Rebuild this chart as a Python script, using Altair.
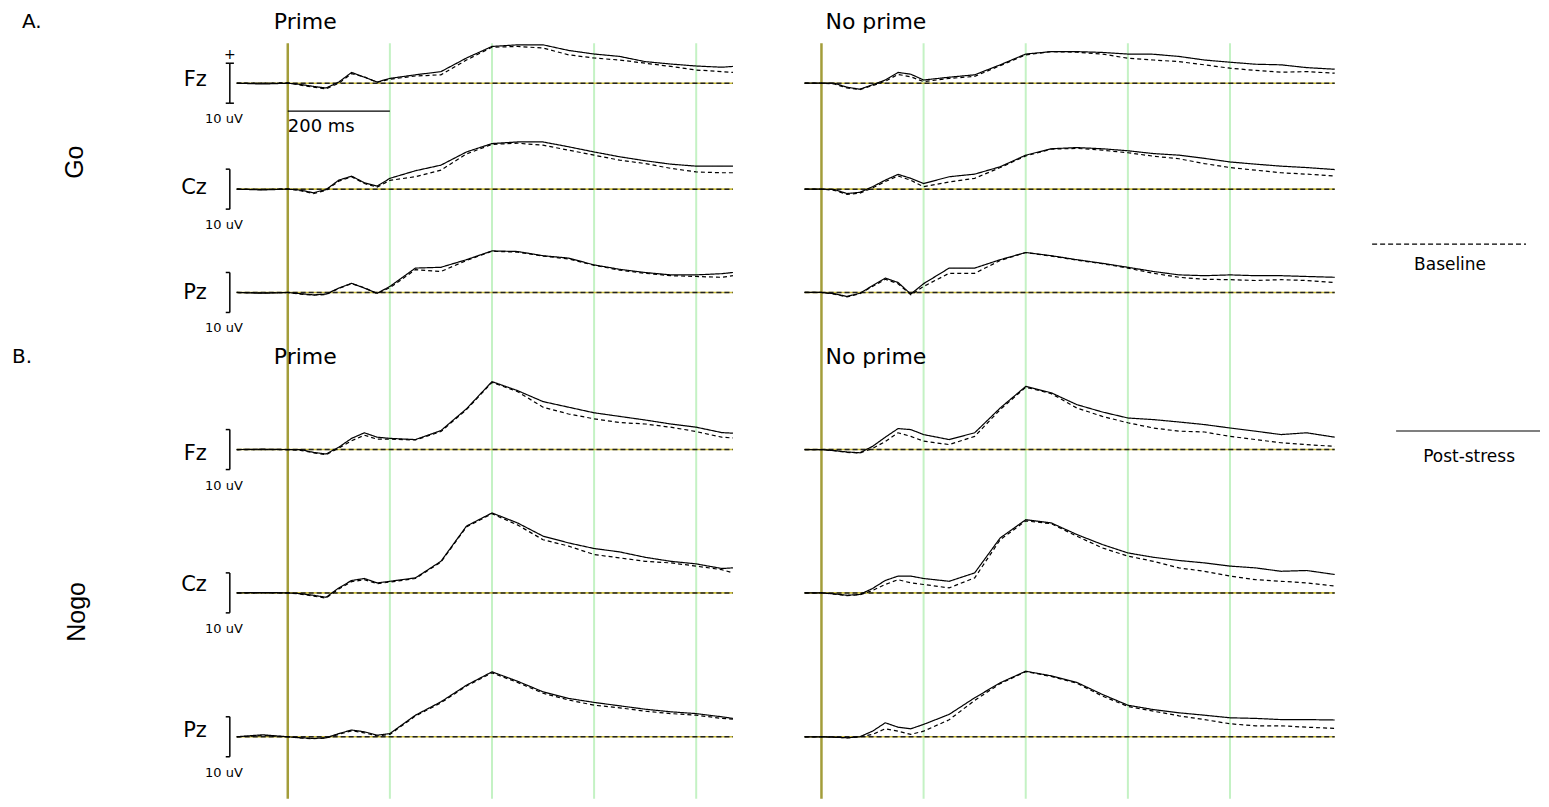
import altair as alt
import pandas as pd

# ---------------- time axes (ms) ----------------
TIME_PRIME = [-100, -50, 0, 25, 50, 75, 100, 125, 150, 175, 200, 250, 300, 350,
              400, 450, 500, 550, 600, 650, 700, 750, 800, 850, 872]
TIME_NOPRIME = [-33, 0, 25, 50, 75, 100, 125, 150, 175, 200, 250, 300, 350, 400,
                450, 500, 550, 600, 650, 700, 750, 800, 850, 900, 950, 1005]

# ---------------- Prime (left column), amplitudes in µV ----------------
PRIME_GO_FZ_POST = [0, -0.2, 0, -0.3, -0.8, -1.2, 0.3, 2.7, 1.5, 0.3, 1.2, 2.1, 2.9, 6.3,
                    9.2, 9.6, 9.6, 8.2, 7.3, 6.7, 5.4, 4.8, 4.3, 4.0, 4.2]
PRIME_GO_FZ_BASE = [0, 0, 0.1, -0.5, -1.0, -1.4, 0.0, 2.4, 1.6, 0.2, 1.0, 1.8, 2.1, 5.8,
                    9.0, 9.2, 8.8, 7.1, 6.3, 5.8, 5.0, 4.2, 3.3, 2.9, 2.7]
PRIME_GO_CZ_POST = [0, -0.2, 0, -0.25, -0.9, -0.1, 2.25, 3.25, 1.6, 0.75, 2.7, 4.6, 6.0, 9.3,
                    11.4, 11.8, 11.8, 10.6, 9.3, 8.1, 7.1, 6.25, 5.75, 5.75, 5.75]
PRIME_GO_CZ_BASE = [0, -0.1, 0.1, -0.4, -1.1, -0.3, 2.0, 3.1, 1.4, 0.5, 2.2, 3.1, 4.75, 8.8,
                    11.2, 11.5, 11.0, 9.75, 8.5, 7.25, 6.4, 5.2, 4.3, 4.1, 4.1]
PRIME_GO_PZ_POST = [0, -0.2, 0, -0.3, -0.6, -0.4, 1.1, 2.3, 1.1, -0.2, 1.5, 6.1, 6.3, 8.2,
                    10.4, 10.25, 9.2, 8.6, 6.9, 5.8, 5.0, 4.4, 4.4, 4.7, 5.0]
PRIME_GO_PZ_BASE = [0, -0.1, 0, -0.4, -0.7, -0.5, 1.0, 2.2, 1.2, -0.3, 1.2, 5.7, 5.25, 8.0,
                    10.3, 10.1, 9.1, 8.4, 6.8, 5.6, 4.8, 4.2, 4.0, 3.8, 4.2]
PRIME_NOGO_FZ_POST = [0, 0.1, 0, 0, -0.7, -1.1, 0.6, 2.8, 4.2, 3.1, 2.8, 2.5, 4.75, 10.2,
                      17.0, 14.75, 12.0, 10.6, 9.2, 8.3, 7.4, 6.4, 5.6, 4.25, 4.1]
PRIME_NOGO_FZ_BASE = [0, 0, 0, -0.2, -0.8, -1.3, 0.4, 2.2, 3.6, 2.6, 2.6, 2.4, 4.5, 10.0,
                      16.8, 14.5, 10.6, 8.9, 7.7, 6.75, 6.4, 5.6, 4.5, 3.1, 2.9]
PRIME_NOGO_CZ_POST = [0, 0.1, 0, -0.2, -0.6, -1.1, 1.25, 3.1, 3.6, 2.5, 2.9, 3.75, 7.9, 16.7,
                      20.0, 17.5, 14.2, 12.5, 11.1, 10.25, 8.9, 7.9, 7.25, 6.1, 6.25]
PRIME_NOGO_CZ_BASE = [0, 0, 0, -0.3, -0.8, -1.3, 1.0, 2.8, 3.3, 2.3, 2.7, 3.6, 7.7, 16.5,
                      19.8, 17.0, 13.3, 11.7, 9.6, 8.75, 7.9, 7.5, 6.7, 5.8, 5.0]
PRIME_NOGO_PZ_POST = [0, 0.5, 0, -0.25, -0.4, -0.25, 0.8, 1.7, 1.25, 0.4, 0.8, 5.4, 8.75, 12.9,
                      16.25, 13.9, 11.25, 9.6, 8.6, 7.75, 6.9, 6.25, 5.8, 5.0, 4.6]
PRIME_NOGO_PZ_BASE = [0, 0.3, 0, -0.3, -0.5, -0.3, 0.6, 1.5, 1.0, 0.2, 0.6, 5.2, 8.5, 12.7,
                      16.0, 13.6, 10.9, 9.2, 7.9, 7.25, 6.4, 5.8, 5.4, 4.6, 4.4]

# ---------------- No prime (right column), amplitudes in µV ----------------
NOPRIME_GO_FZ_POST = [0, 0, 0, -1.0, -1.5, -0.4, 0.8, 2.7, 2.25, 0.8, 1.5, 2.1, 4.6, 7.3,
                      7.9, 7.9, 7.7, 7.3, 7.25, 6.7, 5.8, 5.25, 4.75, 4.6, 3.9, 3.5]
NOPRIME_GO_FZ_BASE = [0, 0, -0.2, -1.2, -1.6, -0.6, 0.5, 2.2, 1.6, 0.4, 1.2, 1.7, 4.4, 7.1,
                      7.9, 7.75, 7.3, 6.25, 5.8, 5.4, 4.6, 3.75, 3.2, 2.75, 2.9, 2.5]
NOPRIME_GO_CZ_POST = [0, 0, -0.1, -1.1, -0.8, 0.6, 2.25, 3.7, 2.7, 1.4, 3.1, 3.75, 5.6, 8.5,
                      10.1, 10.4, 10.1, 9.6, 8.9, 8.5, 7.7, 6.8, 6.25, 5.75, 5.4, 4.9]
NOPRIME_GO_CZ_BASE = [0, 0, -0.3, -1.3, -1.0, 0.3, 1.9, 3.3, 2.2, 0.6, 1.8, 2.7, 5.4, 8.3,
                      10.0, 10.2, 9.75, 9.1, 8.25, 7.6, 6.4, 5.4, 4.75, 4.1, 3.75, 3.3]
NOPRIME_GO_PZ_POST = [0, 0, -0.3, -1.0, -0.2, 1.7, 3.6, 2.5, -0.4, 2.2, 6.1, 6.1, 8.2, 10.0,
                      9.2, 8.2, 7.3, 6.3, 5.25, 4.4, 4.2, 4.4, 4.2, 4.2, 4.0, 3.8]
NOPRIME_GO_PZ_BASE = [0, 0, -0.4, -1.1, -0.3, 1.5, 3.3, 2.2, -0.6, 1.5, 4.8, 4.8, 8.0, 10.0,
                      9.1, 8.1, 7.2, 6.1, 4.8, 3.8, 3.3, 3.2, 3.0, 3.2, 3.0, 2.5]
NOPRIME_NOGO_FZ_POST = [0, 0, -0.25, -0.6, -0.8, 0.8, 3.1, 5.25, 5.0, 3.75, 2.5, 4.2, 10.4, 15.8,
                        14.2, 11.25, 9.4, 7.9, 7.5, 6.9, 6.25, 5.4, 4.6, 3.75, 4.2, 3.1]
NOPRIME_NOGO_FZ_BASE = [0, 0, -0.3, -0.7, -0.9, 0.3, 2.0, 4.2, 3.3, 2.1, 1.25, 3.3, 10.0, 15.6,
                        14.0, 10.4, 8.3, 6.7, 5.4, 4.6, 4.4, 3.3, 2.5, 1.7, 1.25, 0.8]
NOPRIME_NOGO_CZ_POST = [0, 0, -0.25, -0.6, -0.4, 1.1, 3.1, 4.2, 4.2, 3.6, 2.9, 5.0, 13.75, 18.3,
                        17.5, 14.6, 12.1, 10.0, 8.9, 8.1, 7.5, 6.7, 6.25, 5.4, 5.6, 4.6]
NOPRIME_NOGO_CZ_BASE = [0, 0, -0.3, -0.7, -0.5, 0.6, 2.1, 3.3, 2.5, 2.1, 1.25, 3.75, 13.3, 18.0,
                        17.3, 14.2, 11.25, 9.2, 7.9, 6.25, 5.4, 4.2, 3.3, 2.9, 2.5, 1.7]
NOPRIME_NOGO_PZ_POST = [0, 0, -0.1, -0.25, 0, 1.4, 3.5, 2.4, 2.0, 3.1, 5.6, 9.75, 13.5, 16.4,
                        15.25, 13.6, 10.6, 7.9, 6.8, 6.0, 5.4, 4.75, 4.6, 4.3, 4.3, 4.2]
NOPRIME_NOGO_PZ_BASE = [0, 0, -0.1, -0.3, 0, 0.6, 2.0, 1.4, 0.6, 1.4, 4.25, 9.1, 13.3, 16.3,
                        15.1, 13.4, 10.2, 7.6, 6.4, 5.25, 4.3, 3.25, 2.75, 2.75, 2.4, 2.1]

PANELS = ["Prime", "No prime"]
TASKS = ["Go", "Nogo"]
CHANNELS = ["Fz", "Cz", "Pz"]
CONDITIONS = ["Baseline", "Post-stress"]
GRID_TIMES = [200, 400, 600, 800]
CAL_UV = 10          # calibration bar height (µV)
SCALE_MS = 200       # time scale bar (ms)

TRACES = {
    ("Prime", "Go", "Fz", "Baseline"): PRIME_GO_FZ_BASE,
    ("Prime", "Go", "Fz", "Post-stress"): PRIME_GO_FZ_POST,
    ("Prime", "Go", "Cz", "Baseline"): PRIME_GO_CZ_BASE,
    ("Prime", "Go", "Cz", "Post-stress"): PRIME_GO_CZ_POST,
    ("Prime", "Go", "Pz", "Baseline"): PRIME_GO_PZ_BASE,
    ("Prime", "Go", "Pz", "Post-stress"): PRIME_GO_PZ_POST,
    ("Prime", "Nogo", "Fz", "Baseline"): PRIME_NOGO_FZ_BASE,
    ("Prime", "Nogo", "Fz", "Post-stress"): PRIME_NOGO_FZ_POST,
    ("Prime", "Nogo", "Cz", "Baseline"): PRIME_NOGO_CZ_BASE,
    ("Prime", "Nogo", "Cz", "Post-stress"): PRIME_NOGO_CZ_POST,
    ("Prime", "Nogo", "Pz", "Baseline"): PRIME_NOGO_PZ_BASE,
    ("Prime", "Nogo", "Pz", "Post-stress"): PRIME_NOGO_PZ_POST,
    ("No prime", "Go", "Fz", "Baseline"): NOPRIME_GO_FZ_BASE,
    ("No prime", "Go", "Fz", "Post-stress"): NOPRIME_GO_FZ_POST,
    ("No prime", "Go", "Cz", "Baseline"): NOPRIME_GO_CZ_BASE,
    ("No prime", "Go", "Cz", "Post-stress"): NOPRIME_GO_CZ_POST,
    ("No prime", "Go", "Pz", "Baseline"): NOPRIME_GO_PZ_BASE,
    ("No prime", "Go", "Pz", "Post-stress"): NOPRIME_GO_PZ_POST,
    ("No prime", "Nogo", "Fz", "Baseline"): NOPRIME_NOGO_FZ_BASE,
    ("No prime", "Nogo", "Fz", "Post-stress"): NOPRIME_NOGO_FZ_POST,
    ("No prime", "Nogo", "Cz", "Baseline"): NOPRIME_NOGO_CZ_BASE,
    ("No prime", "Nogo", "Cz", "Post-stress"): NOPRIME_NOGO_CZ_POST,
    ("No prime", "Nogo", "Pz", "Baseline"): NOPRIME_NOGO_PZ_BASE,
    ("No prime", "Nogo", "Pz", "Post-stress"): NOPRIME_NOGO_PZ_POST,
}

# ---------------- layout (stacking of the EEG rows, in µV units) ----------------
ROW_OFFSET = {("Go", "Fz"): -18.75, ("Go", "Cz"): -45.25, ("Go", "Pz"): -71.1,
              ("Nogo", "Fz"): -110.4, ("Nogo", "Cz"): -146.25, ("Nogo", "Pz"): -182.25}
LABEL_SHIFT = {("Go", "Fz"): 0.75, ("Go", "Cz"): 0.25, ("Go", "Pz"): -0.1,
               ("Nogo", "Fz"): -1.0, ("Nogo", "Cz"): 1.9, ("Nogo", "Pz"): 1.5}
UV_DOMAIN = [-197.75, 0]
LINE_TOP = -8.75
LEFT_DOMAIN = [-548, 924]
RIGHT_DOMAIN = [-121.3, 1407]
LEFT_W, RIGHT_W, H = 752, 781, 791
CAL_T = -113.5
LABEL_T = -158.5
UNIT_T = -125

OLIVE = "#a39d3a"
YELLOW = "#cdbf3e"
GREEN = "#c4f2c4"
FONT = "DejaVu Sans"

records = []
for (panel, task, ch, cond), vals in TRACES.items():
    times = TIME_PRIME if panel == "Prime" else TIME_NOPRIME
    assert len(times) == len(vals), (panel, task, ch, cond)
    for t, v in zip(times, vals):
        records.append({"panel": panel, "task": task, "channel": ch, "condition": cond,
                        "time": t, "uv": v, "y": v + ROW_OFFSET[(task, ch)],
                        "trace": f"{task}-{ch}-{cond}"})
df = pd.DataFrame(records)

rows = pd.DataFrame([{"task": t, "channel": c, "offset": ROW_OFFSET[(t, c)],
                      "label_y": ROW_OFFSET[(t, c)] + LABEL_SHIFT[(t, c)],
                      "cal_top": ROW_OFFSET[(t, c)] + CAL_UV / 2,
                      "cal_bot": ROW_OFFSET[(t, c)] - CAL_UV / 2,
                      "unit_y": ROW_OFFSET[(t, c)] - 9.0,
                      "cal_t": CAL_T, "tick_l": CAL_T - 8, "label_t": LABEL_T,
                      "unit_t": UNIT_T, "unit": "10 uV"}
                     for t in TASKS for c in CHANNELS])


def panel_chart(name, times, xdomain, width, left):
    X = lambda f: alt.X(f, type="quantitative",
                        scale=alt.Scale(domain=xdomain, nice=False, zero=False), axis=None)
    Y = lambda f: alt.Y(f, type="quantitative",
                        scale=alt.Scale(domain=UV_DOMAIN, nice=False, zero=False), axis=None)
    d = df[df["panel"] == name]
    zr = rows.assign(start=times[0], end=times[-1])

    grid = alt.Chart(pd.DataFrame({"time": GRID_TIMES, "top": LINE_TOP, "bot": UV_DOMAIN[0]})) \
        .mark_rule(color=GREEN, strokeWidth=2).encode(x=X("time"), y=Y("top"), y2=alt.Y2("bot"))
    onset = alt.Chart(pd.DataFrame({"time": [0], "top": [LINE_TOP], "bot": [UV_DOMAIN[0]]})) \
        .mark_rule(color=OLIVE, strokeWidth=2.5).encode(x=X("time"), y=Y("top"), y2=alt.Y2("bot"))
    zero_y = alt.Chart(zr).mark_rule(color=YELLOW, strokeWidth=1.6).encode(
        x=X("start"), x2=alt.X2("end"), y=Y("offset"))
    zero_k = alt.Chart(zr).mark_rule(color="#222222", strokeWidth=1.5, strokeDash=[5, 3]).encode(
        x=X("start"), x2=alt.X2("end"), y=Y("offset"))
    lines = alt.Chart(d).mark_line(color="black", strokeWidth=1.2).encode(
        x=X("time"), y=Y("y"), detail="trace:N",
        strokeDash=alt.StrokeDash("condition:N",
                                  scale=alt.Scale(domain=CONDITIONS, range=[[4, 3], [1, 0]]),
                                  legend=None),
        order=alt.Order("time:Q"))

    def txt(s, x, y, size, align="left", angle=0, font=FONT):
        return alt.Chart(pd.DataFrame({"s": [s]})).mark_text(
            align=align, baseline="middle", fontSize=size, font=font, angle=angle,
            color="black").encode(text="s:N", x=alt.value(x), y=alt.value(y))

    layers = [grid, onset, zero_y, zero_k, lines]
    if left:
        cal = alt.Chart(rows).mark_rule(color="black", strokeWidth=1.5).encode(
            x=X("cal_t"), y=Y("cal_top"), y2=alt.Y2("cal_bot"))
        tick_t = alt.Chart(rows).mark_rule(color="black", strokeWidth=1.5).encode(
            x=X("tick_l"), x2=alt.X2("cal_t"), y=Y("cal_top"))
        tick_b = alt.Chart(rows).mark_rule(color="black", strokeWidth=1.5).encode(
            x=X("tick_l"), x2=alt.X2("cal_t"), y=Y("cal_bot"))
        gofz = rows[(rows["task"] == "Go") & (rows["channel"] == "Fz")].assign(
            tick_r=CAL_T + 8, plus_y=ROW_OFFSET[("Go", "Fz")] + 7, plus="+",
            bar_y=ROW_OFFSET[("Go", "Fz")] - 7, zero=0, span=SCALE_MS,
            ms_y=ROW_OFFSET[("Go", "Fz")] - 11, ms=f"{SCALE_MS} ms")
        tick_tr = alt.Chart(gofz).mark_rule(color="black", strokeWidth=1.5).encode(
            x=X("cal_t"), x2=alt.X2("tick_r"), y=Y("cal_top"))
        tick_br = alt.Chart(gofz).mark_rule(color="black", strokeWidth=1.5).encode(
            x=X("cal_t"), x2=alt.X2("tick_r"), y=Y("cal_bot"))
        plus = alt.Chart(gofz).mark_text(fontSize=14, font=FONT, color="black").encode(
            x=X("cal_t"), y=Y("plus_y"), text="plus:N")
        msbar = alt.Chart(gofz).mark_rule(color="black", strokeWidth=1.3).encode(
            x=X("zero"), x2=alt.X2("span"), y=Y("bar_y"))
        mstext = alt.Chart(gofz).mark_text(align="left", baseline="middle", fontSize=18,
                                           font=FONT, color="black").encode(
            x=X("zero"), y=Y("ms_y"), text="ms:N")
        chan = alt.Chart(rows).mark_text(align="right", baseline="middle", fontSize=21,
                                         font=FONT, color="black").encode(
            x=X("label_t"), y=Y("label_y"), text="channel:N")
        unit = alt.Chart(rows).mark_text(align="center", baseline="middle", fontSize=13,
                                         font=FONT, color="black").encode(
            x=X("unit_t"), y=Y("unit_y"), text="unit:N")
        layers += [cal, tick_t, tick_b, tick_tr, tick_br, plus, msbar, mstext, chan, unit,
                   txt("A.", 14, 14, 20), txt("B.", 4, 349, 20),
                   txt("Prime", 266, 14, 22), txt("Prime", 266, 349, 22),
                   txt("Go", 67, 154, 25, align="center", angle=270, font="Liberation Sans"),
                   txt("Nogo", 69, 604, 25, align="center", angle=270, font="Liberation Sans")]
    else:
        leg_dash = alt.Chart(pd.DataFrame({"k": [1]})).mark_rule(
            color="black", strokeWidth=1.2, strokeDash=[5, 3]).encode(
            x=alt.value(613), x2=alt.value(767), y=alt.value(236))
        leg_solid = alt.Chart(pd.DataFrame({"k": [1]})).mark_rule(
            color="black", strokeWidth=1.2).encode(
            x=alt.value(637), x2=alt.value(781), y=alt.value(423))
        layers += [txt("No prime", 66, 14, 22), txt("No prime", 66, 349, 22),
                   leg_dash, leg_solid,
                   txt("Baseline", 691, 257, 17, align="center"),
                   txt("Post-stress", 710, 449, 17, align="center")]
    return alt.layer(*layers).properties(width=width, height=H)


left = panel_chart("Prime", TIME_PRIME, LEFT_DOMAIN, LEFT_W, True)
right = panel_chart("No prime", TIME_NOPRIME, RIGHT_DOMAIN, RIGHT_W, False)

chart = alt.hconcat(left, right, spacing=0).properties(
    padding={"left": 0, "top": 0, "right": 0, "bottom": 0},
    background="white",
).configure_view(stroke=None)

chart.save("out.html", embed_options={"renderer": "svg", "actions": False})
